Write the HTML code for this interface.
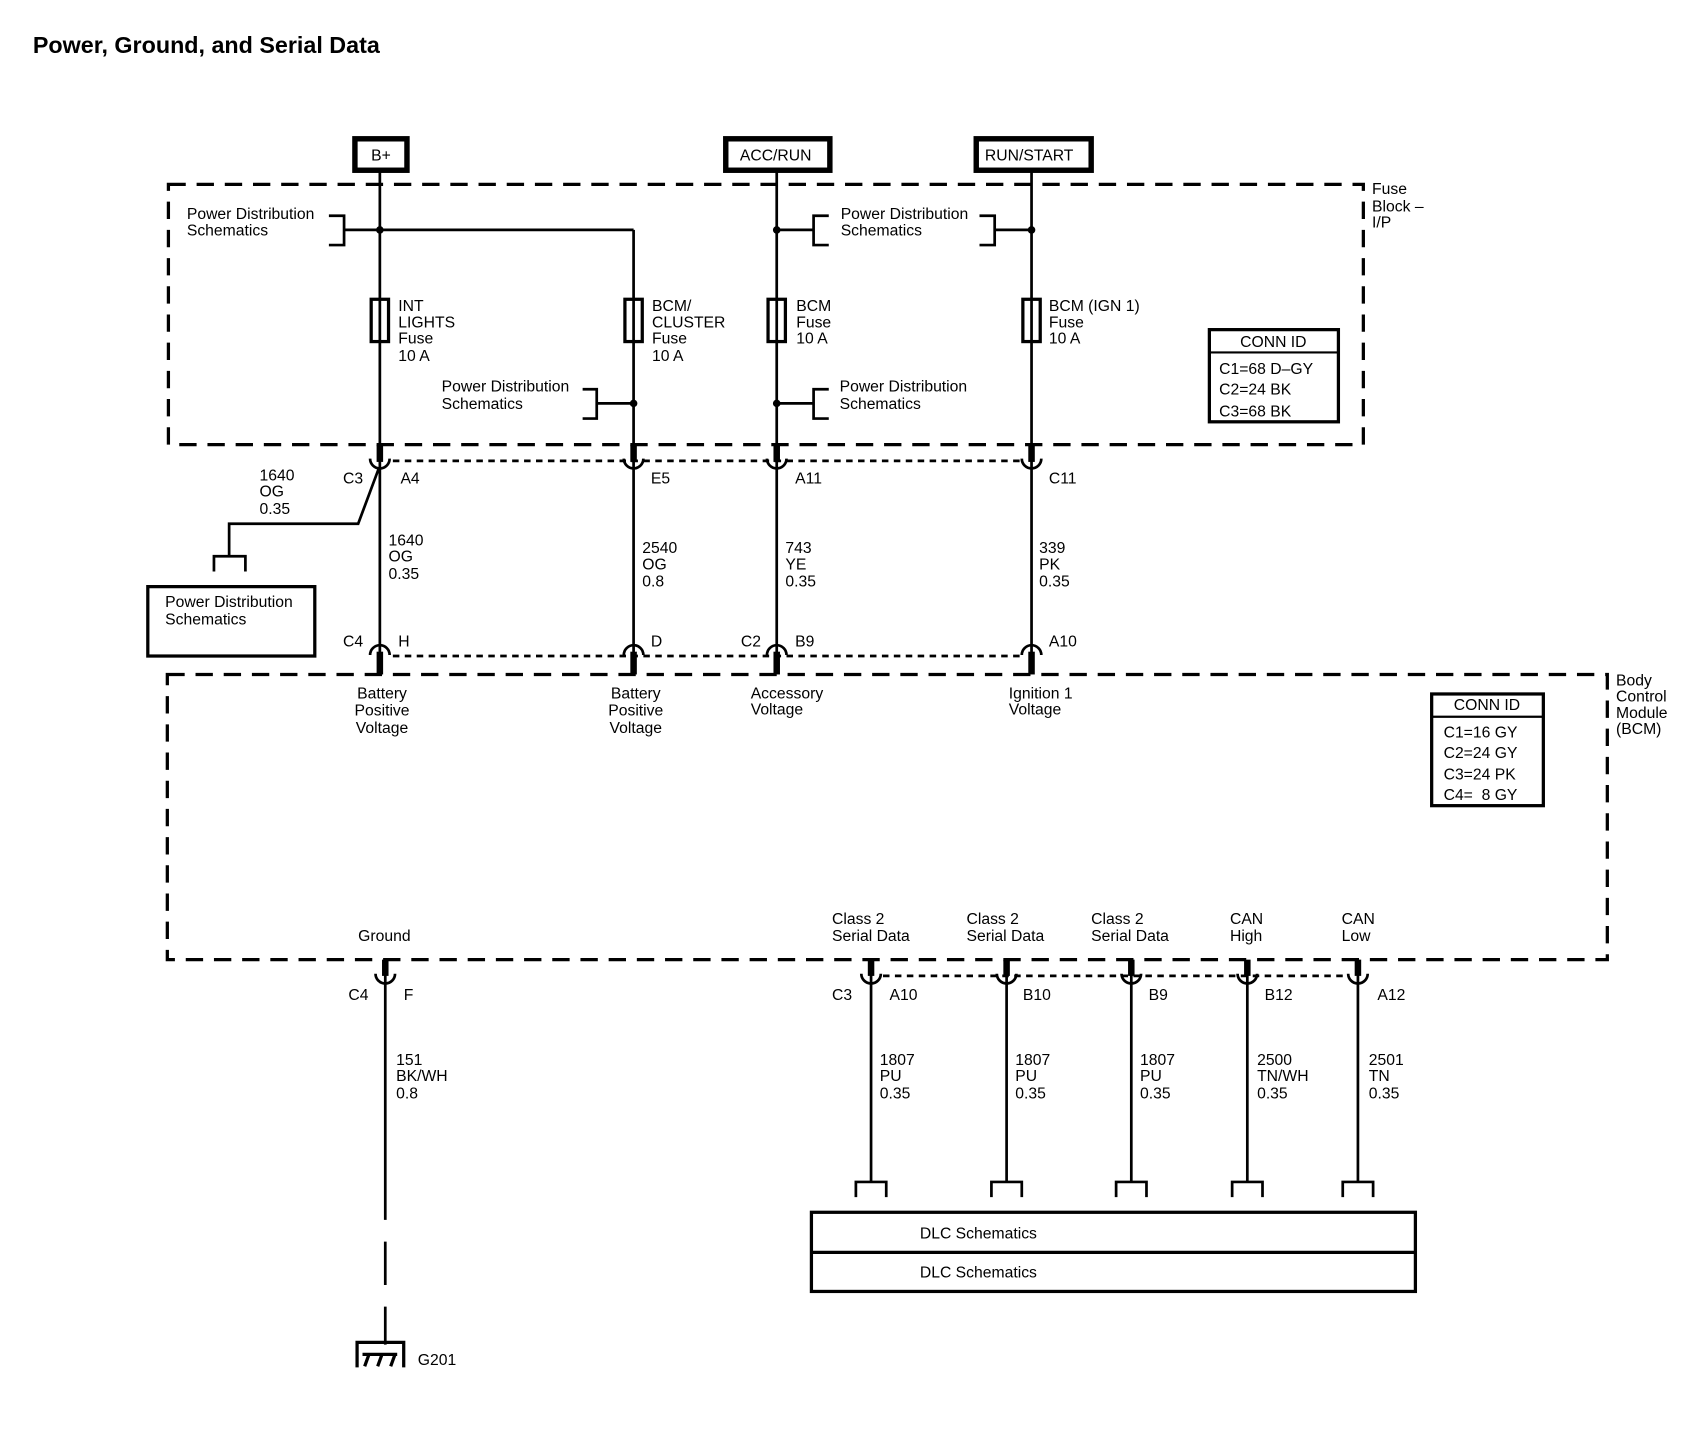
<!DOCTYPE html>
<html><head><meta charset="utf-8"><style>
html,body{margin:0;padding:0;background:#fff}
svg{display:block}
text{font-family:"Liberation Sans",sans-serif;font-size:14.5px;fill:#000}
</style></head><body>
<svg width="1702" height="1440" viewBox="0 0 1569 1328" xmlns="http://www.w3.org/2000/svg">
<text x="30" y="49" style="font-size:21.5px;font-weight:bold">Power, Ground, and Serial Data</text>

<g fill="none" stroke="#000">
<rect x="327" y="128" width="48" height="29" stroke-width="5"/>
<rect x="669" y="128" width="96" height="29" stroke-width="5"/>
<rect x="900" y="128" width="106" height="29" stroke-width="5"/>
<rect x="155" y="170" width="1102" height="240" stroke-width="3" stroke-dasharray="16,10"/>
<rect x="154" y="622" width="1328" height="263" stroke-width="3" stroke-dasharray="16,10"/>
<g stroke-width="2.5">
<line x1="350" y1="157" x2="350" y2="620"/>
<line x1="584" y1="212" x2="584" y2="620"/>
<line x1="716" y1="157" x2="716" y2="620"/>
<line x1="951" y1="157" x2="951" y2="620"/>
<polyline points="350,212 584,212"/>
<polyline points="317,212 350,212"/>
<polyline points="303,199 317,199 317,226 303,226"/>
<polyline points="716,212 750,212"/>
<polyline points="764,199 750,199 750,226 764,226"/>
<polyline points="917,212 951,212"/>
<polyline points="903,199 917,199 917,226 903,226"/>
<polyline points="550,372 584,372"/>
<polyline points="537,359 550,359 550,386 537,386"/>
<polyline points="716,372 750,372"/>
<polyline points="764,359 750,359 750,386 764,386"/>
<polyline points="349,432 330,483 211,483 211,513"/>
<polyline points="197,527 197,513 226,513 226,527"/>
<line x1="355" y1="897" x2="355" y2="1085"/>
<line x1="355" y1="1085" x2="355" y2="1240" stroke-dasharray="40,20"/>
<line x1="803" y1="897" x2="803" y2="1090"/>
<line x1="928" y1="897" x2="928" y2="1090"/>
<line x1="1043" y1="897" x2="1043" y2="1090"/>
<line x1="1150" y1="897" x2="1150" y2="1090"/>
<line x1="1252" y1="897" x2="1252" y2="1090"/>
<polyline points="789,1104 789,1090 817,1090 817,1104"/>
<polyline points="914,1104 914,1090 942,1090 942,1104"/>
<polyline points="1029,1104 1029,1090 1057,1090 1057,1104"/>
<polyline points="1136,1104 1136,1090 1164,1090 1164,1104"/>
<polyline points="1238,1104 1238,1090 1266,1090 1266,1104"/>
<polyline points="329,1261 329,1238 372,1238 372,1261" stroke-width="3"/>
<line x1="334" y1="1249" x2="366" y2="1249" stroke-width="3"/>
<line x1="340" y1="1249" x2="336" y2="1260" stroke-width="3"/>
<line x1="352" y1="1249" x2="348" y2="1260" stroke-width="3"/>
<line x1="364" y1="1249" x2="360" y2="1260" stroke-width="3"/>
</g>
<g stroke-width="3">
<rect x="342" y="276" width="16" height="39"/>
<rect x="576" y="276" width="16" height="39"/>
<rect x="708" y="276" width="16" height="39"/>
<rect x="943" y="276" width="16" height="39"/>
</g>
<g stroke-width="6">
<line x1="350" y1="410" x2="350" y2="426"/><line x1="584" y1="410" x2="584" y2="426"/>
<line x1="716" y1="410" x2="716" y2="426"/><line x1="951" y1="410" x2="951" y2="426"/>
<line x1="350" y1="601" x2="350" y2="622"/><line x1="584" y1="601" x2="584" y2="622"/>
<line x1="716" y1="601" x2="716" y2="622"/><line x1="951" y1="601" x2="951" y2="622"/>
<line x1="355" y1="885" x2="355" y2="900"/><line x1="803" y1="885" x2="803" y2="900"/>
<line x1="928" y1="885" x2="928" y2="900"/><line x1="1043" y1="885" x2="1043" y2="900"/>
<line x1="1150" y1="885" x2="1150" y2="900"/><line x1="1252" y1="885" x2="1252" y2="900"/>
</g>
<g stroke-width="2.5">
<path d="M341,423 A9,9 0 0 0 359,423 M575,423 A9,9 0 0 0 593,423 M707,423 A9,9 0 0 0 725,423 M942,423 A9,9 0 0 0 960,423"/>
<path d="M341,604 A9,9 0 0 1 359,604 M575,604 A9,9 0 0 1 593,604 M707,604 A9,9 0 0 1 725,604 M942,604 A9,9 0 0 1 960,604"/>
<path d="M346,898 A9,9 0 0 0 364,898 M794,898 A9,9 0 0 0 812,898 M919,898 A9,9 0 0 0 937,898 M1034,898 A9,9 0 0 0 1052,898 M1141,898 A9,9 0 0 0 1159,898 M1243,898 A9,9 0 0 0 1261,898"/>
</g>
<g stroke-width="2.5" stroke-dasharray="6,5">
<line x1="362" y1="425" x2="940" y2="425"/>
<line x1="362" y1="605" x2="940" y2="605"/>
<line x1="814" y1="900" x2="1243" y2="900"/>
</g>
<rect x="1115" y="304" width="119" height="85" stroke-width="3"/>
<line x1="1115" y1="325" x2="1234" y2="325" stroke-width="2"/>
<rect x="1320" y="640" width="103" height="103" stroke-width="3"/>
<line x1="1320" y1="661" x2="1423" y2="661" stroke-width="2"/>
<rect x="136" y="541" width="154" height="64" stroke-width="3"/>
<rect x="748" y="1118" width="557" height="73" stroke-width="3"/>
<line x1="748" y1="1155" x2="1305" y2="1155" stroke-width="3"/>
</g>
<g fill="#000">
<circle cx="350" cy="212" r="3.5"/><circle cx="716" cy="212" r="3.5"/><circle cx="951" cy="212" r="3.5"/>
<circle cx="584" cy="372" r="3.5"/><circle cx="716" cy="372" r="3.5"/>
</g>

<text x="342" y="148">B+</text>
<text x="682" y="148">ACC/RUN</text>
<text x="908" y="148">RUN/START</text>
<text x="1265" y="179">Fuse</text><text x="1265" y="195">Block –</text><text x="1265" y="210">I/P</text>

<text x="172" y="202">Power Distribution</text><text x="172" y="217">Schematics</text>
<text x="775" y="202">Power Distribution</text><text x="775" y="217">Schematics</text>
<text x="407" y="361">Power Distribution</text><text x="407" y="377">Schematics</text>
<text x="774" y="361">Power Distribution</text><text x="774" y="377">Schematics</text>

<text x="367" y="287">INT</text><text x="367" y="302">LIGHTS</text><text x="367" y="317">Fuse</text><text x="367" y="333">10 A</text>
<text x="601" y="287">BCM/</text><text x="601" y="302">CLUSTER</text><text x="601" y="317">Fuse</text><text x="601" y="333">10 A</text>
<text x="734" y="287">BCM</text><text x="734" y="302">Fuse</text><text x="734" y="317">10 A</text>
<text x="967" y="287">BCM (IGN 1)</text><text x="967" y="302">Fuse</text><text x="967" y="317">10 A</text>

<g style="font-size:16px">
<text x="1174" y="320" text-anchor="middle">CONN ID</text>
<text x="1124" y="345">C1=68 D–GY</text><text x="1124" y="364">C2=24 BK</text><text x="1124" y="384">C3=68 BK</text>
<text x="1371" y="655" text-anchor="middle">CONN ID</text>
<text x="1331" y="680">C1=16 GY</text><text x="1331" y="699">C2=24 GY</text><text x="1331" y="719">C3=24 PK</text><text x="1331" y="738" xml:space="preserve">C4=  8 GY</text>
</g>

<text x="316" y="446">C3</text><text x="369" y="446">A4</text><text x="600" y="446">E5</text><text x="733" y="446">A11</text><text x="967" y="446">C11</text>
<text x="239" y="443">1640</text><text x="239" y="458">OG</text><text x="239" y="474">0.35</text>
<text x="358" y="503">1640</text><text x="358" y="518">OG</text><text x="358" y="534">0.35</text>
<text x="592" y="510">2540</text><text x="592" y="525">OG</text><text x="592" y="541">0.8</text>
<text x="724" y="510">743</text><text x="724" y="525">YE</text><text x="724" y="541">0.35</text>
<text x="958" y="510">339</text><text x="958" y="525">PK</text><text x="958" y="541">0.35</text>
<text x="152" y="560">Power Distribution</text><text x="152" y="576">Schematics</text>
<text x="316" y="596">C4</text><text x="367" y="596">H</text><text x="600" y="596">D</text><text x="683" y="596">C2</text><text x="733" y="596">B9</text><text x="967" y="596">A10</text>

<text x="352" y="644" text-anchor="middle">Battery</text><text x="352" y="660" text-anchor="middle">Positive</text><text x="352" y="676" text-anchor="middle">Voltage</text>
<text x="586" y="644" text-anchor="middle">Battery</text><text x="586" y="660" text-anchor="middle">Positive</text><text x="586" y="676" text-anchor="middle">Voltage</text>
<text x="692" y="644">Accessory</text><text x="692" y="659">Voltage</text>
<text x="930" y="644">Ignition 1</text><text x="930" y="659">Voltage</text>
<text x="1490" y="632">Body</text><text x="1490" y="647">Control</text><text x="1490" y="662">Module</text><text x="1490" y="677">(BCM)</text>

<text x="330" y="868">Ground</text>
<text x="767" y="852">Class 2</text><text x="767" y="868">Serial Data</text>
<text x="891" y="852">Class 2</text><text x="891" y="868">Serial Data</text>
<text x="1006" y="852">Class 2</text><text x="1006" y="868">Serial Data</text>
<text x="1134" y="852">CAN</text><text x="1134" y="868">High</text>
<text x="1237" y="852">CAN</text><text x="1237" y="868">Low</text>

<text x="321" y="922">C4</text><text x="372" y="922">F</text>
<text x="767" y="922">C3</text><text x="820" y="922">A10</text><text x="943" y="922">B10</text><text x="1059" y="922">B9</text><text x="1166" y="922">B12</text><text x="1270" y="922">A12</text>

<text x="365" y="982">151</text><text x="365" y="997">BK/WH</text><text x="365" y="1013">0.8</text>
<text x="811" y="982">1807</text><text x="811" y="997">PU</text><text x="811" y="1013">0.35</text>
<text x="936" y="982">1807</text><text x="936" y="997">PU</text><text x="936" y="1013">0.35</text>
<text x="1051" y="982">1807</text><text x="1051" y="997">PU</text><text x="1051" y="1013">0.35</text>
<text x="1159" y="982">2500</text><text x="1159" y="997">TN/WH</text><text x="1159" y="1013">0.35</text>
<text x="1262" y="982">2501</text><text x="1262" y="997">TN</text><text x="1262" y="1013">0.35</text>

<text x="848" y="1142">DLC Schematics</text>
<text x="848" y="1178">DLC Schematics</text>
<text x="385" y="1259">G201</text>
</svg>
</body></html>
